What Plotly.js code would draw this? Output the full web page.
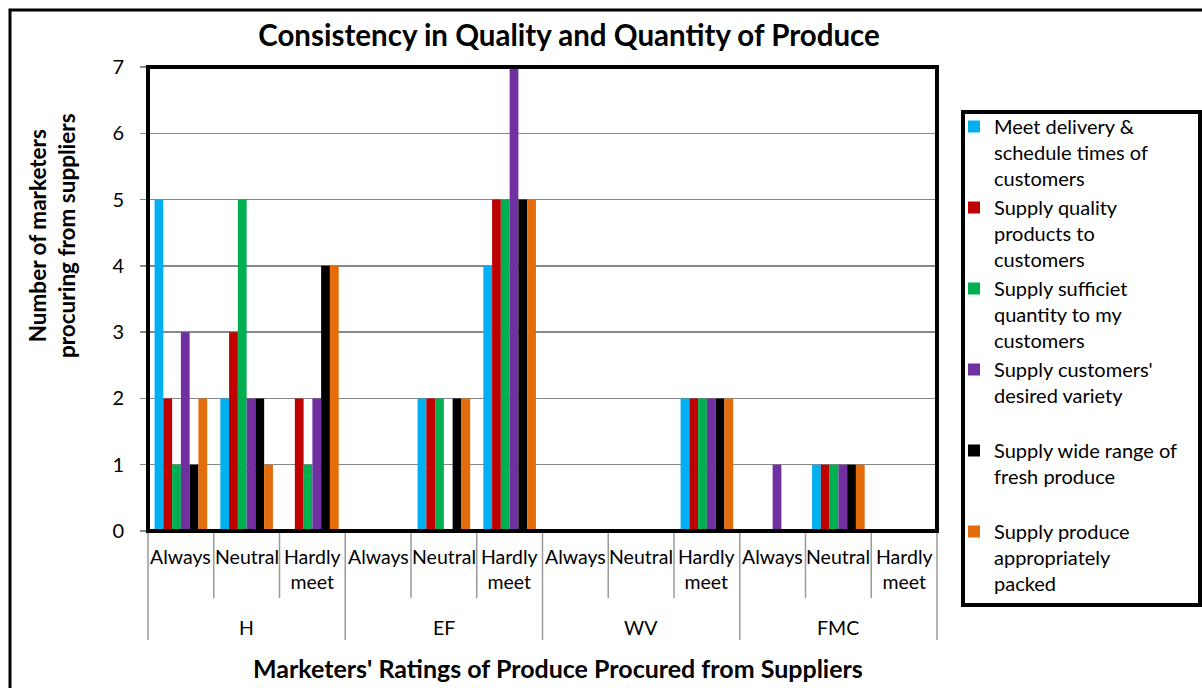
<!DOCTYPE html>
<html>
<head>
<meta charset="utf-8">
<script src="https://cdn.plot.ly/plotly-3.0.1.min.js"></script>
<style>html,body{margin:0;padding:0;background:#fff;}#chart{width:1202px;height:688px;}</style>
</head>
<body>
<div id="chart"></div>
<script>
// ---- data ----
const groups = ['H', 'EF', 'WV', 'FMC'];
const ratings = ['Always', 'Neutral', 'Hardly meet'];
const ratingLabels = ['Always', 'Neutral', 'Hardly<br>meet'];
const seriesNames = [
  'Meet delivery &<br>schedule times of<br>customers',
  'Supply quality<br>products to<br>customers',
  'Supply sufficiet<br>quantity to my<br>customers',
  "Supply customers'<br>desired variety<br> ",
  'Supply wide range of<br>fresh produce<br> ',
  'Supply produce<br>appropriately<br>packed'
];
const seriesColors = ['#00B0F0', '#C00000', '#00B050', '#7030A0', '#000000', '#E46C0A'];
// order per group: Always, Neutral, Hardly meet (H, EF, WV, FMC)
const meetDelivery = [5, 2, 0,  0, 2, 4,  0, 0, 2,  0, 1, 0];
const quality      = [2, 3, 2,  0, 2, 5,  0, 0, 2,  0, 1, 0];
const quantity     = [1, 5, 1,  0, 2, 5,  0, 0, 2,  0, 1, 0];
const variety      = [3, 2, 2,  0, 0, 7,  0, 0, 2,  1, 1, 0];
const wideRange    = [1, 2, 4,  0, 2, 5,  0, 0, 2,  0, 1, 0];
const packed       = [2, 1, 4,  0, 2, 5,  0, 0, 2,  0, 1, 0];
const seriesValues = [meetDelivery, quality, quantity, variety, wideRange, packed];

// ---- build ----
const categories = [];
groups.forEach(g => ratings.forEach(r => categories.push(g + ' | ' + r)));

const FONT = 'Lato, "Open Sans", sans-serif';

const traces = seriesValues.map((vals, i) => ({
  type: 'bar',
  name: seriesNames[i],
  x: categories,
  y: vals,
  marker: { color: seriesColors[i], line: { width: 0 } },
  hoverinfo: 'x+y'
}));

// pixel helpers (plot area: x 148..937, y 67..531)
const L = 148, R = 937, T = 67, B = 531;
const px = v => (v - L) / (R - L);
const py = v => (B - v) / (B - T);

const annotations = [];
categories.forEach((c, i) => {
  annotations.push({
    xref: 'x', yref: 'paper', x: c, y: py(543), yanchor: 'top', xanchor: 'center',
    text: ratingLabels[i % 3], showarrow: false,
    font: { family: FONT, size: 19.5, color: '#000' }
  });
});
groups.forEach((g, gi) => {
  annotations.push({
    xref: 'x', yref: 'paper', x: categories[gi * 3 + 1], y: py(627), yanchor: 'middle', xanchor: 'center',
    text: g, showarrow: false, font: { family: FONT, size: 19.5, color: '#000' }
  });
});
annotations.push({
  xref: 'paper', yref: 'paper', x: px(52), y: py(236), xanchor: 'center', yanchor: 'middle',
  textangle: -90, showarrow: false,
  text: '<b>Number of marketers<br>procuring from suppliers</b>',
  font: { family: FONT, size: 22.5, color: '#000' }
});
annotations.push({
  xref: 'paper', yref: 'paper', x: px(558), y: py(668), xanchor: 'center', yanchor: 'middle',
  showarrow: false,
  text: "<b>Marketers' Ratings of Produce Procured from Suppliers</b>",
  font: { family: FONT, size: 25, color: '#000' }
});

const shapes = [];
const nCat = categories.length;
for (let i = 0; i <= nCat; i++) {
  const long = i % 3 === 0;
  shapes.push({
    type: 'line', xref: 'paper', yref: 'paper',
    x0: i / nCat, x1: i / nCat, y0: 0, y1: long ? py(640) : py(598),
    line: { color: '#9a9a9a', width: 1.5 }
  });
}
// plot area frame
shapes.push({ type: 'rect', xref: 'paper', yref: 'paper', x0: 0, x1: 1, y0: 0, y1: 1,
  line: { color: '#000', width: 4 } });
// legend box
shapes.push({ type: 'rect', xref: 'paper', yref: 'paper', x0: px(963), x1: px(1200), y0: py(605), y1: py(112),
  line: { color: '#000', width: 4 } });
// outer chart frame
shapes.push({ type: 'rect', xref: 'paper', yref: 'paper', x0: px(10), x1: px(1300), y0: py(800), y1: py(10),
  line: { color: '#000', width: 3 } });

const layout = {
  width: 1202, height: 688,
  margin: { l: L, r: 1202 - R, t: T, b: 688 - B, pad: 0 },
  paper_bgcolor: '#fff', plot_bgcolor: '#fff',
  font: { family: FONT, color: '#000' },
  title: {
    text: '<b>Consistency in Quality and Quantity of Produce</b>',
    font: { family: FONT, size: 29.5, color: '#000' },
    x: 569 / 1202, xanchor: 'center', xref: 'container',
    y: 1 - 36 / 688, yanchor: 'middle', yref: 'container'
  },
  barmode: 'group', bargap: 0.2, bargroupgap: 0,
  xaxis: {
    type: 'category', showticklabels: false, ticks: '', showgrid: false,
    showline: false, zeroline: false, fixedrange: true
  },
  yaxis: {
    range: [0, 7], dtick: 1, tick0: 0, showgrid: true, gridcolor: '#888', gridwidth: 1.5,
    zeroline: false, showline: false, ticks: 'outside', ticklen: 7, tickcolor: '#888', tickwidth: 1.5,
    ticklabelstandoff: 12,
    tickfont: { family: FONT, size: 20, color: '#000' }, fixedrange: true
  },
  showlegend: true,
  legend: {
    x: px(954), y: py(107), xanchor: 'left', yanchor: 'top', maxheight: 650,
    bgcolor: 'rgba(0,0,0,0)', borderwidth: 0, valign: 'top', traceorder: 'normal',
    font: { family: FONT, size: 20, color: '#000' }, itemclick: false, itemdoubleclick: false
  },
  annotations: annotations,
  shapes: shapes
};

Plotly.newPlot('chart', traces, layout, { displayModeBar: false, staticPlot: true });
</script>
</body>
</html>
